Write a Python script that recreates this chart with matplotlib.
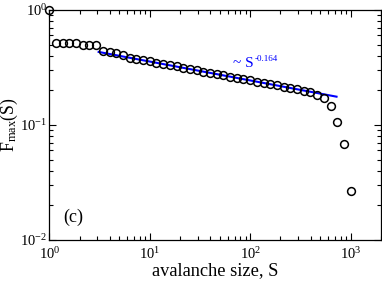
import matplotlib
matplotlib.use("Agg")
import matplotlib.pyplot as plt

# avalanche size bins and maximal F
s_vals = [1.0, 1.166, 1.359, 1.585, 1.848, 2.154, 2.512, 2.929, 3.415, 3.981,
          4.642, 5.412, 6.310, 7.356, 8.577, 10.0, 11.66, 13.59, 15.85, 18.48,
          21.54, 25.12, 29.29, 34.15, 39.81, 46.42, 54.12, 63.10, 73.56, 85.77,
          100.0, 116.6, 135.9, 158.5, 184.8, 215.4, 251.2, 292.9, 341.5, 398.1,
          464.2, 541.2, 631.0, 735.6, 857.7, 1000.0]
f_max = [1.0, 0.516, 0.516, 0.516, 0.516, 0.50, 0.50, 0.50, 0.44, 0.43,
         0.42, 0.405, 0.385, 0.375, 0.366, 0.357, 0.348, 0.339, 0.330, 0.322,
         0.314, 0.306, 0.298, 0.291, 0.284, 0.277, 0.270, 0.263, 0.257, 0.250,
         0.244, 0.238, 0.232, 0.226, 0.221, 0.215, 0.210, 0.205, 0.199, 0.193,
         0.182, 0.171, 0.146, 0.106, 0.068, 0.0267]

# power-law fit ~ S^-0.164
fit_s = [3.1, 724.0]
fit_f = [0.431, 0.176]
fit_base = "~ S"
fit_exp = "-0.164"

plt.rcParams['font.family'] = 'Liberation Serif'
plt.rcParams['mathtext.fontset'] = 'custom'
plt.rcParams['mathtext.rm'] = 'Liberation Serif'
plt.rcParams['mathtext.it'] = 'Liberation Serif:italic'

fig = plt.figure(figsize=(3.82, 2.82), dpi=100)
ax = fig.add_axes([0.129, 0.149, 0.868, 0.816])

ax.plot(fit_s, fit_f, color='blue', lw=1.5, zorder=2)
ax.plot(s_vals, f_max, 'o', mfc='none', mec='black', ms=5.6, mew=1.1,
        zorder=3, clip_on=False)

ax.set_xscale('log')
ax.set_yscale('log')
ax.set_xlim(1, 2000)
ax.set_ylim(0.01, 1)

ax.tick_params(which='both', direction='in', top=True, right=True,
               labelsize=10.5, width=0.8)
ax.tick_params(which='major', length=5)
ax.tick_params(which='minor', length=3)
ax.tick_params(axis='x', pad=4.5)
ax.tick_params(axis='y', pad=1.5)

ax.set_xlabel("avalanche size, S", fontsize=13.2, labelpad=0)
ax.set_ylabel(r"F$_{\rm max}$(S)", fontsize=12.8)
ax.yaxis.set_label_coords(-0.088, 0.5)

# fit annotation, small superscript like the original
ax.text(67, 0.339, fit_base, color='blue', fontsize=11, ha='left', va='center')
ax.text(112, 0.371, fit_exp, color='blue', fontsize=6.5, ha='left', va='center')
ax.text(0.042, 0.062, "(c)", transform=ax.transAxes, fontsize=13, va='bottom')

for sp in ax.spines.values():
    sp.set_linewidth(0.9)

fig.savefig("out.png", dpi=100)
